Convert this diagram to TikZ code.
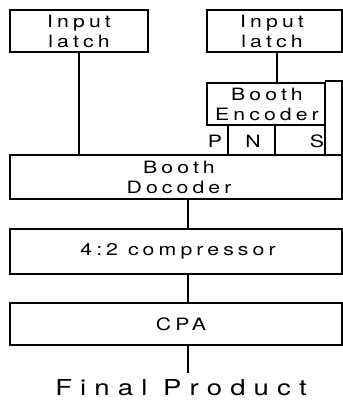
\documentclass[tikz,border=0pt]{standalone}
\usepackage{fontspec}
\newfontfamily\boxfont[LetterSpace=24,FakeStretch=1.25]{TeX Gyre Heros}
\newfontfamily\bigfont[LetterSpace=37,FakeStretch=1.25]{TeX Gyre Heros}
\begin{document}
\begin{tikzpicture}[x=1pt,y=-1pt,
  blk/.style={draw,line width=1.6pt,rectangle,inner sep=0pt},
  wire/.style={line width=1.6pt},
  lbl/.style={font=\boxfont\fontsize{17}{20}\selectfont,align=center,inner sep=0pt},
  big/.style={font=\bigfont\fontsize{22}{24}\selectfont,inner sep=0pt}]
\useasboundingbox (0,0) rectangle (343,400);
% boxes
\draw[blk] (10,10) rectangle (148,52);
\node[lbl] (la) at (79,31) {Input\\latch};
\draw[blk] (207,10) rectangle (342,52);
\node[lbl] (lb) at (272,31) {Input\\latch};
\draw[blk] (207,83) rectangle (325,125);
\node[lbl] (enc) at (267,104) {Booth\\Encoder};
\draw[wire] (325,81) -- (342,81) -- (342,155);
\draw[wire] (228,125) -- (228,155);
\draw[wire] (275,125) -- (275,155);
\draw[wire] (325,125) -- (325,155);
\node[lbl] (p) at (215,141) {P};
\node[lbl] (n) at (253,141) {N};
\node[lbl] (s) at (317,141) {S};
\draw[blk] (10,155) rectangle (342,199);
\node[lbl] (dec) at (179,177) {Booth\\Docoder};
\draw[blk] (10,229) rectangle (342,274);
\node[lbl] (cmp) at (178,251.5) {4:2 compressor};
\draw[blk] (10,303) rectangle (342,345);
\node[lbl] (cpa) at (181,324) {CPA};
\node[big] (fp) at (181,388) {Final Product};
% wires
\coordinate (a1) at (79,52); \coordinate (a2) at (79,155);
\draw[wire] (a1) -- (a2);
\coordinate (b1) at (277,52); \coordinate (b2) at (277,83);
\draw[wire] (b1) -- (b2);
\coordinate (c1) at (188,199); \coordinate (c2) at (188,229);
\draw[wire] (c1) -- (c2);
\coordinate (d1) at (188,274); \coordinate (d2) at (188,303);
\draw[wire] (d1) -- (d2);
\coordinate (e1) at (188,345);
\draw[wire] (e1) -- (188,373);
\end{tikzpicture}
\end{document}
